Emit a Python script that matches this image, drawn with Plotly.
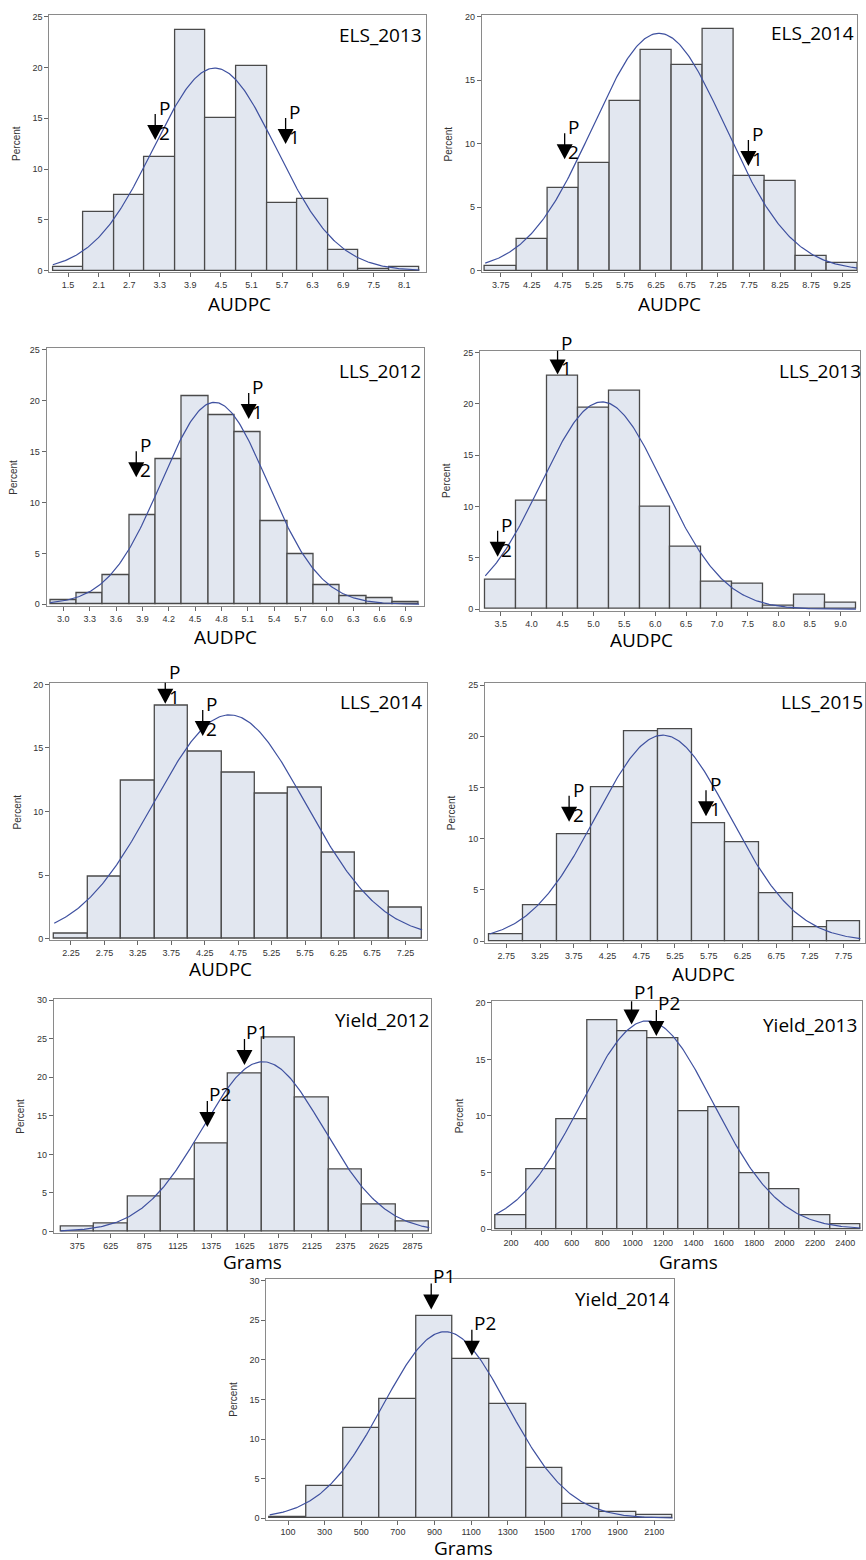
import numpy as np
import plotly.graph_objects as go

W, H = 866, 1560

# ---------------- data ----------------
els2013_mid = [1.5, 2.1, 2.7, 3.3, 3.9, 4.5, 5.1, 5.7, 6.3, 6.9, 7.5, 8.1]
els2013_lab = ["1.5", "2.1", "2.7", "3.3", "3.9", "4.5", "5.1", "5.7", "6.3", "6.9", "7.5", "8.1"]
els2013_pct = [0.4, 5.8, 7.5, 11.2, 23.7, 15.0, 20.2, 6.7, 7.1, 2.0, 0.2, 0.4]

els2014_mid = [3.75, 4.25, 4.75, 5.25, 5.75, 6.25, 6.75, 7.25, 7.75, 8.25, 8.75, 9.25]
els2014_lab = ["3.75", "4.25", "4.75", "5.25", "5.75", "6.25", "6.75", "7.25", "7.75", "8.25", "8.75", "9.25"]
els2014_pct = [0.4, 2.5, 6.5, 8.5, 13.4, 17.4, 16.2, 19.0, 7.5, 7.05, 1.2, 0.6]

lls2012_mid = [3.0, 3.3, 3.6, 3.9, 4.2, 4.5, 4.8, 5.1, 5.4, 5.7, 6.0, 6.3, 6.6, 6.9]
lls2012_lab = ["3.0", "3.3", "3.6", "3.9", "4.2", "4.5", "4.8", "5.1", "5.4", "5.7", "6.0", "6.3", "6.6", "6.9"]
lls2012_pct = [0.45, 1.05, 2.9, 8.8, 14.3, 20.45, 18.6, 16.95, 8.2, 4.95, 1.85, 0.8, 0.6, 0.2]

lls2013_mid = [3.5, 4.0, 4.5, 5.0, 5.5, 6.0, 6.5, 7.0, 7.5, 8.0, 8.5, 9.0]
lls2013_lab = ["3.5", "4.0", "4.5", "5.0", "5.5", "6.0", "6.5", "7.0", "7.5", "8.0", "8.5", "9.0"]
lls2013_pct = [2.9, 10.55, 22.7, 19.6, 21.25, 9.95, 6.1, 2.65, 2.45, 0.3, 1.4, 0.6]

lls2014_mid = [2.25, 2.75, 3.25, 3.75, 4.25, 4.75, 5.25, 5.75, 6.25, 6.75, 7.25]
lls2014_lab = ["2.25", "2.75", "3.25", "3.75", "4.25", "4.75", "5.25", "5.75", "6.25", "6.75", "7.25"]
lls2014_pct = [0.42, 4.9, 12.45, 18.37, 14.68, 13.05, 11.43, 11.87, 6.74, 3.67, 2.46]

lls2015_mid = [2.75, 3.25, 3.75, 4.25, 4.75, 5.25, 5.75, 6.25, 6.75, 7.25, 7.75]
lls2015_lab = ["2.75", "3.25", "3.75", "4.25", "4.75", "5.25", "5.75", "6.25", "6.75", "7.25", "7.75"]
lls2015_pct = [0.65, 3.47, 10.47, 15.0, 20.46, 20.65, 11.54, 9.7, 4.67, 1.39, 1.95]

y2012_mid = [375, 625, 875, 1125, 1375, 1625, 1875, 2125, 2375, 2625, 2875]
y2012_lab = ["375", "625", "875", "1125", "1375", "1625", "1875", "2125", "2375", "2625", "2875"]
y2012_pct = [0.69, 1.08, 4.52, 6.76, 11.45, 20.45, 25.14, 17.43, 8.0, 3.53, 1.25]

y2013_mid = [200, 400, 600, 800, 1000, 1200, 1400, 1600, 1800, 2000, 2200, 2400]
y2013_lab = ["200", "400", "600", "800", "1000", "1200", "1400", "1600", "1800", "2000", "2200", "2400"]
y2013_pct = [1.26, 5.33, 9.75, 18.48, 17.45, 16.84, 10.4, 10.8, 4.92, 3.51, 1.26, 0.47]

y2014_mid = [100, 300, 500, 700, 900, 1100, 1300, 1500, 1700, 1900, 2100]
y2014_lab = ["100", "300", "500", "700", "900", "1100", "1300", "1500", "1700", "1900", "2100"]
y2014_pct = [0.2, 4.14, 11.34, 15.02, 25.52, 20.08, 14.43, 6.32, 1.84, 0.84, 0.46]

# bin widths, fitted normal parameters (mean, sd)
bin_width = [0.6, 0.5, 0.3, 0.5, 0.5, 0.5, 250, 200, 200]
fit_mean = [4.38, 6.30, 4.72, 5.14, 4.62, 5.07, 1759, 1096, 958]
fit_sd = [1.20, 1.067, 0.603, 0.988, 1.133, 0.992, 453, 433.6, 338.8]
y_max = [25, 20, 25, 25, 20, 25, 30, 20, 30]

panel_names = ["ELS_2013", "ELS_2014", "LLS_2012", "LLS_2013", "LLS_2014",
               "LLS_2015", "Yield_2012", "Yield_2013", "Yield_2014"]
x_titles = ["AUDPC"] * 6 + ["Grams"] * 3

# marker positions: (x, percent at arrow tip)
p1_x = [5.77, 7.74, 5.11, 4.42, 3.66, 5.71, 1622, 993, 882]
p1_y = [12.47, 8.25, 18.2, 22.86, 18.48, 12.19, 21.6, 18.07, 26.36]
p2_x = [3.21, 4.78, 3.83, 3.45, 4.22, 3.68, 1345, 1156, 1104]
p2_y = [12.86, 8.77, 12.48, 5.1, 15.94, 11.67, 13.56, 17.07, 20.5]

mids = [els2013_mid, els2014_mid, lls2012_mid, lls2013_mid, lls2014_mid,
        lls2015_mid, y2012_mid, y2013_mid, y2014_mid]
labs = [els2013_lab, els2014_lab, lls2012_lab, lls2013_lab, lls2014_lab,
        lls2015_lab, y2012_lab, y2013_lab, y2014_lab]
pcts = [els2013_pct, els2014_pct, lls2012_pct, lls2013_pct, lls2014_pct,
        lls2015_pct, y2012_pct, y2013_pct, y2014_pct]

# ---------------- layout (pixel frames) ----------------
# frame: left, right, top, bottom (px); x range
frames = [
    (49.3, 426.7, 12, 270.5, (1.13, 8.53)),
    (482.3, 858, 12, 270.5, (3.444, 9.49)),
    (46.7, 424, 346.7, 605.5, (2.81, 7.10)),
    (480.7, 861.3, 349.3, 610.5, (3.167, 9.32)),
    (50, 427.3, 682.7, 941.5, (1.936, 7.57)),
    (485.7, 865.5, 683.3, 944, (2.435, 8.06)),
    (54, 431.2, 1000, 1235.5, (201, 3011)),
    (493, 863, 1002.7, 1233, (77, 2510)),
    (266.7, 675, 1281.7, 1523.5, (-18, 2209)),
]
# panel label: right edge px, center y px
name_pos = [(424, 32), (857, 30), (423, 370), (864, 370), (424, 702),
            (866, 702), (431, 1022), (860, 1027), (672, 1302)]
# x title center px
xt_pos = [(240, 302), (670, 302), (226, 636), (642, 639), (221, 970),
          (704, 975), (253, 1264), (689, 1264), (464, 1551)]

BAR_FILL = "#e2e7f0"
BAR_LINE = "#4a4a4a"
CURVE = "#3f51a0"
FRAME = "#8a8a8a"
TXT = "#333333"
LABEL_FONT = "Open Sans"

fig = go.Figure()
layout = dict(width=W, height=H, margin=dict(l=0, r=0, t=0, b=0),
              paper_bgcolor="white", plot_bgcolor="white",
              showlegend=False, bargap=0, shapes=[], annotations=[])


def fx(px):
    return px / W


def fy(py):
    return 1 - py / H


for i in range(9):
    k = "" if i == 0 else str(i + 1)
    xa, ya = "x" + k, "y" + k
    left, right, top, bot, xr = frames[i]
    ymx = y_max[i]
    w = bin_width[i]

    fig.add_trace(go.Bar(
        x=mids[i], y=pcts[i], width=w, xaxis=xa, yaxis=ya,
        marker=dict(color=BAR_FILL, line=dict(color=BAR_LINE, width=1.3)),
        hoverinfo="skip"))

    lo = mids[i][0] - w / 2
    hi = mids[i][-1] + w / 2
    xs = np.linspace(lo, hi, 300)
    mu, sd = fit_mean[i], fit_sd[i]
    ys = 100 * w / (sd * np.sqrt(2 * np.pi)) * np.exp(-0.5 * ((xs - mu) / sd) ** 2)
    fig.add_trace(go.Scatter(x=xs, y=ys, mode="lines", xaxis=xa, yaxis=ya,
                             line=dict(color=CURVE, width=1.2), hoverinfo="skip"))

    layout["xaxis" + k] = dict(
        domain=[fx(left), fx(right)], anchor=ya, range=list(xr),
        tickmode="array", tickvals=mids[i], ticktext=labs[i],
        ticks="outside", ticklen=4, tickcolor="#666", tickwidth=1,
        tickfont=dict(family="Liberation Sans", size=9, color=TXT),
        showline=True, linecolor=FRAME, linewidth=1, mirror=True,
        showgrid=False, zeroline=False, fixedrange=True)
    layout["yaxis" + k] = dict(
        domain=[fy(bot), fy(top)], anchor=xa,
        range=[-0.006 * ymx, 1.007 * ymx], dtick=5, tick0=0,
        ticks="outside", ticklen=4, tickcolor="#666", tickwidth=1,
        tickfont=dict(family="Liberation Sans", size=9, color=TXT),
        showline=True, linecolor=FRAME, linewidth=1, mirror=True,
        showgrid=False, zeroline=False, fixedrange=True)

    # Percent title
    layout["annotations"].append(dict(
        text="Percent", xref="paper", yref="paper", x=fx(left - 33),
        y=fy((top + bot) / 2), textangle=-90, showarrow=False,
        xanchor="center", yanchor="middle",
        font=dict(family="Liberation Sans", size=10, color=TXT)))
    # x title
    layout["annotations"].append(dict(
        text=x_titles[i], xref="paper", yref="paper", x=fx(xt_pos[i][0]),
        y=fy(xt_pos[i][1]), showarrow=False, xanchor="center", yanchor="middle",
        height=17, borderpad=0, valign="middle",
        font=dict(family=LABEL_FONT, size=19, color="black")))
    # panel name
    layout["annotations"].append(dict(
        text=panel_names[i], xref="paper", yref="paper", x=fx(name_pos[i][0]),
        y=fy(name_pos[i][1]), showarrow=False, xanchor="right", yanchor="middle",
        font=dict(family=LABEL_FONT, size=19, color="black")))

    # arrows
    for (ax_, ay_, tag) in ((p1_x[i], p1_y[i], "1"), (p2_x[i], p2_y[i], "2")):
        layout["shapes"].append(dict(
            type="path", xref=xa, yref=ya, xsizemode="pixel", ysizemode="pixel",
            xanchor=ax_, yanchor=ay_, path="M -8 15 L 8 15 L 0 0 Z",
            fillcolor="black", line=dict(width=0), layer="above"))
        layout["shapes"].append(dict(
            type="line", xref=xa, yref=ya, xsizemode="pixel", ysizemode="pixel",
            xanchor=ax_, yanchor=ay_, x0=0, x1=0, y0=14, y1=26,
            line=dict(color="black", width=1.3), layer="above"))
        if i < 6:
            layout["annotations"].append(dict(
                text="P", xref=xa, yref=ya, x=ax_, y=ay_, xshift=9, yshift=32,
                showarrow=False, xanchor="center", yanchor="middle",
                font=dict(family=LABEL_FONT, size=19, color="black")))
            layout["annotations"].append(dict(
                text=tag, xref=xa, yref=ya, x=ax_, y=ay_, xshift=9, yshift=7,
                showarrow=False, xanchor="center", yanchor="middle",
                font=dict(family=LABEL_FONT, size=19, color="black")))
        else:
            layout["annotations"].append(dict(
                text="P" + tag, xref=xa, yref=ya, x=ax_, y=ay_, xshift=13, yshift=33,
                showarrow=False, xanchor="center", yanchor="middle",
                font=dict(family=LABEL_FONT, size=19, color="black")))

fig.update_layout(**layout)
fig.write_html("out.html", config={"displayModeBar": False},
               post_script="document.body.style.margin='0';document.body.style.overflow='hidden';")
